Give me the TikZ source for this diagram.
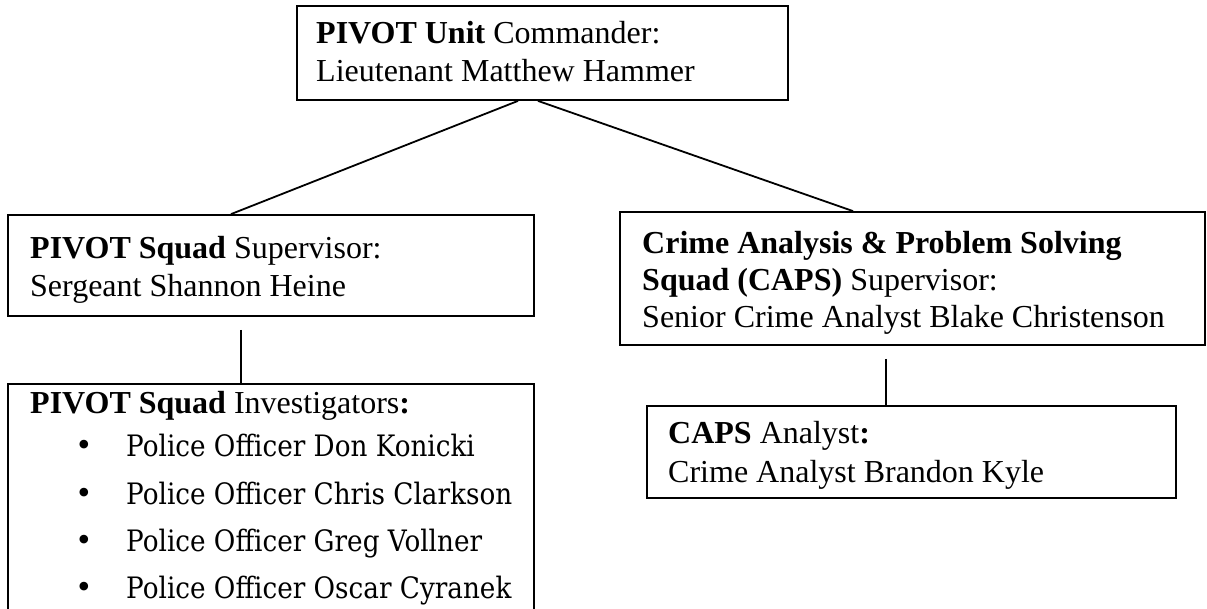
\documentclass[tikz,border=0pt]{standalone}
\usepackage{fontspec}
\setmainfont{Liberation Serif}
\newfontfamily\bulletfont[FakeStretch=0.89]{DejaVu Serif}
\begin{document}
\begin{tikzpicture}[x=1pt,y=-1pt,
  orgbox/.style={draw,line width=1.8pt,inner sep=0pt},
  conn/.style={draw,line width=1.8pt},
  txt/.style={anchor=base west,inner sep=0pt,font=\fontsize{32}{38}\selectfont},
  btxt/.style={anchor=base west,inner sep=0pt,font=\bulletfont\fontsize{29.5}{34}\selectfont},
  bul/.style={anchor=base,inner sep=0pt,font=\fontsize{36}{38}\selectfont}]
\useasboundingbox (0,0) rectangle (1207,608);
% boxes
\node[orgbox,minimum width=491pt,minimum height=94pt] (top) at (542.5,53) {};
\node[orgbox,minimum width=526pt,minimum height=101pt] (sup1) at (271,265.5) {};
\node[orgbox,minimum width=585pt,minimum height=133pt] (sup2) at (912.5,278.5) {};
\node[orgbox,minimum width=526pt,minimum height=228pt] (inv) at (271,498) {};
\node[orgbox,minimum width=529pt,minimum height=92pt] (ana) at (911.5,452) {};
% connectors
\draw[conn] ([xshift=-24.5pt]top.south) -- ([xshift=-40pt]sup1.north);
\draw[conn] ([xshift=-4.5pt]top.south) -- ([xshift=-59.5pt]sup2.north);
\draw[conn] ([xshift=-30pt,yshift=-13pt]sup1.south) -- ([xshift=-30pt]inv.north);
\draw[conn] ([xshift=-26.5pt,yshift=-13pt]sup2.south) -- ([xshift=-25.5pt]ana.north);
% texts
\node[txt] (t1a) at (316,43.3) {\textbf{PIVOT Unit} Commander:};
\node[txt] (t1b) at (316,81.7) {Lieutenant Matthew Hammer};
\node[txt] (t2a) at (30,258) {\textbf{PIVOT Squad} Supervisor:};
\node[txt] (t2b) at (30,296) {Sergeant Shannon Heine};
\node[txt] (t3a) at (642,253) {\textbf{Crime Analysis \& Problem Solving}};
\node[txt] (t3b) at (642,290) {\textbf{Squad (CAPS)} Supervisor:};
\node[txt] (t3c) at (642,327) {Senior Crime Analyst Blake Christenson};
\node[txt] (t4a) at (668,443) {\textbf{CAPS} Analyst\textbf{:}};
\node[txt] (t4b) at (668,482) {Crime Analyst Brandon Kyle};
\node[txt] (t5) at (30,413) {\textbf{PIVOT Squad} Investigators\textbf{:}};
\node[bul] (b1) at (84,456) {•};
\node[bul] (b2) at (84,504) {•};
\node[bul] (b3) at (84,551.5) {•};
\node[bul] (b4) at (84,598) {•};
\node[btxt] (p1) at (126,456) {Police Officer Don Konicki};
\node[btxt] (p2) at (126,504) {Police Officer Chris Clarkson};
\node[btxt] (p3) at (126,551.5) {Police Officer Greg Vollner};
\node[btxt] (p4) at (126,598) {Police Officer Oscar Cyranek};
\end{tikzpicture}
\end{document}
